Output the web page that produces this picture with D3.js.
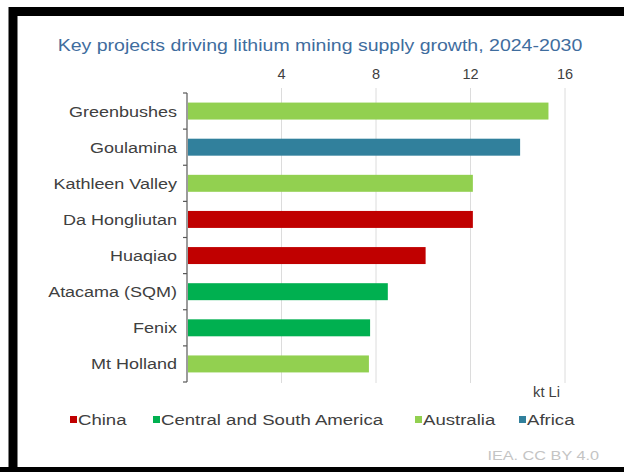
<!DOCTYPE html>
<html>
<head>
<meta charset="utf-8">
<script src="https://cdn.jsdelivr.net/npm/d3@7"></script>
<style>
  html, body { margin: 0; padding: 0; background: #fff; }
  svg { display: block; font-family: "Liberation Sans", Arial, sans-serif; }
</style>
</head>
<body>
<svg id="chart" width="624" height="472"></svg>
<script>
// Projects, their 2024-2030 supply growth (kt Li) and region
const projects = ["Greenbushes", "Goulamina", "Kathleen Valley", "Da Hongliutan", "Huaqiao", "Atacama (SQM)", "Fenix", "Mt Holland"];
const growth   = [15.3, 14.1, 12.1, 12.1, 10.1, 8.5, 7.75, 7.7];
const regionOf = ["Australia", "Africa", "Australia", "China", "China", "Central and South America", "Central and South America", "Australia"];

const regions = ["China", "Central and South America", "Australia", "Africa"];
const regionColors = ["#c00000", "#00b050", "#92d050", "#31809c"];
const xTicks = [4, 8, 12, 16];

const svg = d3.select("#chart");
const W = 624, H = 472;

// wide text: place at (px, py) and stretch horizontally by sx
function wideText(parent, px, py, sx, anchor, size, fill, str) {
  return parent.append("text")
    .attr("transform", `translate(${px},${py}) scale(${sx},1)`)
    .attr("text-anchor", anchor)
    .attr("font-size", size)
    .attr("fill", fill)
    .text(str);
}

// black frame
svg.append("rect").attr("x", 0).attr("y", 0).attr("width", W).attr("height", H).attr("fill", "#fff");
svg.append("path")
  .attr("d", `M13,${H} V11.5 H${W}`)
  .attr("fill", "none").attr("stroke", "#000").attr("stroke-width", 9);
svg.append("rect").attr("x", 0).attr("y", 467).attr("width", W).attr("height", 5).attr("fill", "#000");

const color = d3.scaleOrdinal().domain(regions).range(regionColors);

const x = d3.scaleLinear().domain([0, 16]).range([187, 565]);
const y = d3.scaleBand().domain(projects).range([93, 382]).paddingInner(0.53).paddingOuter(0.265);

// title
wideText(svg, 320, 51, 1.22, "middle", 16, "#3f6d9e",
  "Key projects driving lithium mining supply growth, 2024-2030");

// vertical gridlines
svg.append("g").selectAll("line").data(xTicks).join("line")
  .attr("x1", d => x(d)).attr("x2", d => x(d))
  .attr("y1", 88).attr("y2", 383)
  .attr("stroke", "#dcdcdc").attr("stroke-width", 1);

// top tick labels
svg.append("g").selectAll("text").data(xTicks).join("text")
  .attr("x", d => x(d)).attr("y", 78.5)
  .attr("text-anchor", "middle")
  .attr("font-size", 14.5)
  .attr("fill", "#404040")
  .text(d => d);

// bars
svg.append("g").selectAll("rect").data(projects).join("rect")
  .attr("x", x(0) + 1)
  .attr("y", d => y(d))
  .attr("width", (d, i) => x(growth[i]) - x(0) - 1)
  .attr("height", y.bandwidth())
  .attr("fill", (d, i) => color(regionOf[i]));

// category axis with boundary ticks
const gap = (y.step() - y.bandwidth()) / 2;
const bounds = projects.map(p => y(p) - gap).concat([y(projects[projects.length - 1]) + y.bandwidth() + gap]);
const axis = svg.append("g");
axis.append("line")
  .attr("x1", x(0)).attr("x2", x(0))
  .attr("y1", bounds[0]).attr("y2", bounds[bounds.length - 1])
  .attr("stroke", "#595959").attr("stroke-width", 1.2);
axis.selectAll("line.tk").data(bounds).join("line").attr("class", "tk")
  .attr("x1", x(0) - 4).attr("x2", x(0))
  .attr("y1", d => d).attr("y2", d => d)
  .attr("stroke", "#595959").attr("stroke-width", 1.2);
projects.forEach(p => {
  wideText(axis, x(0) - 10, y(p) + y.bandwidth() / 2 + 5.5, 1.2, "end", 15, "#404040", p);
});

// unit label
wideText(svg, 560, 397, 1.05, "end", 14, "#404040", "kt Li");

// legend
const legendX = [70, 153, 415, 519];
const lg = svg.append("g");
regions.forEach((r, i) => {
  lg.append("rect").attr("x", legendX[i]).attr("y", 416).attr("width", 7).attr("height", 7)
    .attr("fill", color(r));
  wideText(lg, legendX[i] + 8, 425, 1.24, "start", 15, "#404040", r);
});

// source
wideText(svg, 599, 460, 1.3, "end", 12.5, "#c4c4c4", "IEA. CC BY 4.0");
</script>
</body>
</html>
